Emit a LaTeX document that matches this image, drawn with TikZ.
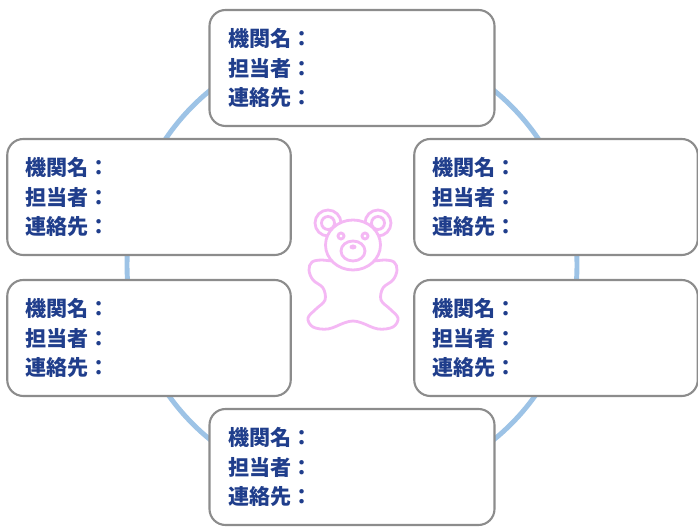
\documentclass[tikz,border=0pt]{standalone}
\usepackage{fontspec}
\newfontfamily\cjk{Noto Sans CJK JP}
\usepackage{tikz}
\usetikzlibrary{positioning}
\definecolor{ringblue}{RGB}{157,195,230}
\definecolor{bearpink}{RGB}{244,184,244}
\definecolor{textblue}{RGB}{32,62,140}
\definecolor{boxgray}{RGB}{140,140,140}
\tikzset{
  infobox/.style={draw=boxgray,line width=1.2pt,rounded corners=0.32cm,fill=white,
    minimum height=2.32cm,text width=4.95cm,inner xsep=0.36cm,align=left,
    font=\cjk\bfseries\fontsize{12}{17}\selectfont,text=textblue},
  bear/.style={draw=bearpink,line width=1.6pt,fill=white}
}
\newcommand{\contact}{機関名：\\担当者：\\連絡先：}

\begin{document}
\begin{tikzpicture}
  \useasboundingbox (0,0) rectangle (13.96,10.54);

  % ring behind the boxes
  \draw [ringblue,line width=2.8pt] (7.04,5.24) circle (4.5);

  \node [infobox,minimum width=5.7cm] (top) at (7.04,9.18) {\contact};
  \node [infobox,minimum width=5.64cm] (upleft) at (2.98,6.6) {\contact};
  \node [infobox,minimum width=5.64cm] (upright) at (11.12,6.6) {\contact};
  \node [infobox,minimum width=5.64cm] (lowleft) at (2.98,3.78) {\contact};
  \node [infobox,minimum width=5.64cm] (lowright) at (11.12,3.78) {\contact};
  \node [infobox,minimum width=5.7cm] (bottom) at (7.04,1.2) {\contact};

  % teddy bear in the middle
  \begin{scope}[shift={(7.06,5.14)}]
    % body, arms and legs in one outline
    \draw [bear] plot [smooth cycle,tension=0.6] coordinates {
      (-0.38,0.18) (-0.62,0.2) (-0.82,0.16) (-0.88,0.0) (-0.8,-0.2)
      (-0.6,-0.36) (-0.56,-0.6) (-0.74,-0.78) (-0.9,-0.96) (-0.8,-1.14)
      (-0.5,-1.18) (-0.18,-1.06) (0,-1.02) (0.18,-1.06) (0.5,-1.18)
      (0.8,-1.14) (0.9,-0.96) (0.74,-0.78) (0.56,-0.6) (0.6,-0.36)
      (0.8,-0.2) (0.88,0.0) (0.82,0.16) (0.62,0.2) (0.38,0.18)};
    \draw [bear] (-0.5,0.94) circle (0.26);
    \draw [bear] (0.5,0.94) circle (0.26);
    \draw [bear] (-0.5,0.94) circle (0.13);
    \draw [bear] (0.5,0.94) circle (0.13);
    \draw [bear] (0,0.5) ellipse (0.55 and 0.5);
    \draw [bear] (0,0.38) ellipse (0.24 and 0.2);
    \draw [bear] (-0.24,0.68) circle (0.06);
    \draw [bear] (0.24,0.68) circle (0.06);
    \fill [bearpink] (0,0.46) ellipse (0.07 and 0.05);
  \end{scope}
\end{tikzpicture}
\end{document}
